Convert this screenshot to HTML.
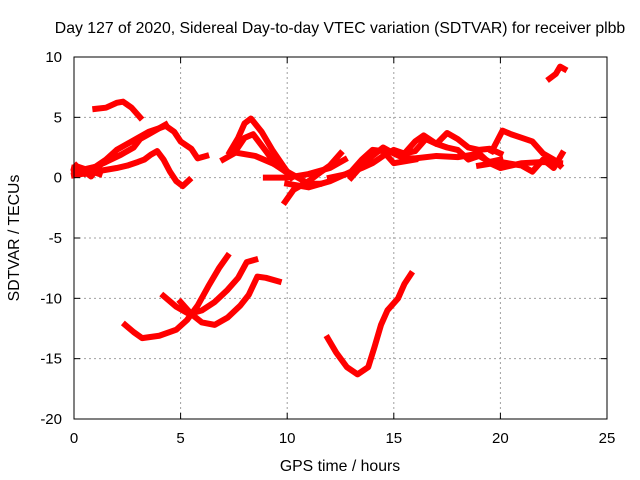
<!DOCTYPE html>
<html><head><meta charset="utf-8"><style>
body{margin:0;background:#fff}
svg{display:block;font-family:"Liberation Sans",sans-serif}
</style></head><body>
<svg id="c" width="640" height="480">
<text x="340" y="33" text-anchor="middle" font-size="15.8">Day 127 of 2020, Sidereal Day-to-day VTEC variation (SDTVAR) for receiver plbb</text>
<text x="340" y="471" text-anchor="middle" font-size="15.8">GPS time / hours</text>
<text transform="translate(19,238) rotate(-90)" text-anchor="middle" font-size="15.8">SDTVAR / TECUs</text>
<g id="grid"></g><g id="marks"></g><g id="axes"></g>
</svg>
<script>
const xTicks=[0,5,10,15,20,25];
const yTicks=[-20,-15,-10,-5,0,5,10];
const tracks=[
[[1.0,5.7],[1.5,5.8],[2.0,6.2],[2.3,6.3],[2.7,5.8],[3.1,5.0]],
[[0,0.8],[0.5,0.6],[1,0.9],[1.5,1.5],[2,2.3],[2.5,2.8],[3,3.3],[3.5,3.8],[4,4.1],[4.3,4.3],[4.7,3.8],[5,3.0],[5.5,2.4],[5.8,1.6],[6.2,1.8]],
[[0,0.2],[1,0.5],[2,0.8],[2.5,1.0],[3,1.3],[3.3,1.5],[3.6,1.9],[3.9,2.2],[4.2,1.5],[4.5,0.5],[4.8,-0.3],[5.1,-0.7],[5.4,-0.2]],
[[0,0.5],[1,0.9],[1.5,1.3],[2.2,1.9],[2.8,2.5],[3.1,3.2],[3.5,3.6],[4.3,4.4]],
[[0.1,1.0],[0.5,0.3],[1,0.7],[1.3,1.2],[0.8,0.1],[0.2,0.9],[1.2,0.3]],
[[7.0,1.5],[7.5,2.0],[8.0,3.3],[8.4,3.6],[9,2.2],[9.5,1.0],[10,0.4]],
[[7.3,2.1],[7.7,3.3],[8.0,4.5],[8.3,4.9],[8.8,3.8],[9.3,2.3],[9.8,1.0],[10.2,0]],
[[7.5,2.1],[8.5,1.8],[9.3,1.2],[10,0.5],[10.5,0],[11,-0.5],[11.5,-0.5]],
[[9,0],[10,0],[11,0.3],[12,0.8],[12.7,1.5]],
[[9.9,-2],[10.3,-1],[11,-0.3],[11.6,0.5],[12,1.0],[12.5,2.0]],
[[10,-0.5],[11,-0.8],[12,-0.3],[13,0.5],[13.5,1.5],[14,2.3],[14.5,2.2],[15,1.2],[16,1.5]],
[[12,0],[12.8,0.3],[13.5,0.8],[14,1.2],[14.5,1.8],[15,2.3],[15.5,2.0],[16,2.2],[16.5,3.2],[17,2.8],[17.5,2.5],[18,2.3],[18.5,1.5],[19,1.8],[19.5,1.3],[20,1.5]],
[[13,0],[13.5,1.0],[14,1.8],[14.5,2.5],[15,2.0],[15.5,1.6],[16,1.6],[17,1.8],[18,1.7],[19,2.0],[19.5,1.2],[20,0.8],[21,1.2],[22,1.3],[22.8,1.2]],
[[15.5,2.0],[16,3.0],[16.4,3.5],[17,2.8],[17.5,3.7],[18,3.2],[18.5,2.5],[19,2.3],[19.5,2.4],[20,2.0]],
[[19.6,2.2],[20.1,3.9],[20.5,3.6],[21,3.3],[21.5,3.0],[22,2.0],[22.5,1.5],[22.8,1.0]],
[[19,1.0],[20,1.3],[21,1.0],[21.5,0.5],[22,1.5],[22.5,0.8],[22.9,2.0]],
[[22.3,8.2],[22.6,8.6],[22.8,9.2],[23,9.0]],
[[2.4,-12.2],[2.8,-12.8],[3.2,-13.3],[4,-13.1],[4.8,-12.6],[5.3,-11.8],[5.8,-10.6],[6.3,-9.0],[6.8,-7.5],[7.2,-6.5]],
[[4.2,-9.8],[4.8,-10.7],[5.4,-11.3],[6,-11.0],[6.6,-10.3],[7.2,-9.3],[7.7,-8.3],[8.1,-7.0],[8.5,-6.8]],
[[5,-10.3],[5.5,-11.3],[6,-12.0],[6.6,-12.2],[7.2,-11.6],[7.8,-10.6],[8.2,-9.7],[8.6,-8.2],[9,-8.3],[9.6,-8.6]],
[[11.9,-13.3],[12.3,-14.5],[12.8,-15.7],[13.3,-16.3],[13.8,-15.7],[14.1,-14],[14.4,-12.2],[14.7,-11.0],[15.2,-10.0],[15.5,-8.8],[15.8,-8.0]]
];
const L=74,R=607,T=57,B=419;
const sx=h=>L+(h-0)/25*(R-L);
const sy=v=>B-(v+20)/30*(B-T);
const NS="http://www.w3.org/2000/svg";
function mk(tag,a,p){const e=document.createElementNS(NS,tag);for(const k in a)e.setAttribute(k,a[k]);p.appendChild(e);return e;}
const grid=document.getElementById('grid'),axes=document.getElementById('axes'),marks=document.getElementById('marks');
xTicks.forEach(t=>{
 const x=sx(t);
 if(t>0&&t<25){const g=mk('line',{x1:x,x2:x,y1:T,y2:B,stroke:'#a0a0a0','stroke-dasharray':'2,3'},grid);
 
 }
 mk('line',{x1:x,x2:x,y1:B,y2:B-6,stroke:'#000'},axes);
 mk('line',{x1:x,x2:x,y1:T,y2:T+6,stroke:'#000'},axes);
 const l=mk('text',{x:x,y:B+24,'text-anchor':'middle','font-size':15},axes);l.textContent=t;
 
 
});
yTicks.forEach(t=>{
 const y=sy(t);
 if(t>-20&&t<10){const g=mk('line',{x1:L,x2:R,y1:y,y2:y,stroke:'#a0a0a0','stroke-dasharray':'2,3'},grid);
 
 }
 mk('line',{x1:L,x2:L+6,y1:y,y2:y,stroke:'#000'},axes);
 mk('line',{x1:R,x2:R-6,y1:y,y2:y,stroke:'#000'},axes);
 const l=mk('text',{x:L-12,y:y+5,'text-anchor':'end','font-size':15},axes);l.textContent=t;
 
 
});
const box=mk('rect',{x:L,y:T,width:R-L,height:B-T,fill:'none',stroke:'#000'},axes);


tracks.forEach(tr=>{
 const p=mk('polyline',{points:tr.map(d=>sx(d[0])+','+sy(d[1])).join(' '),fill:'none',stroke:'#f00','stroke-width':6,'stroke-linejoin':'round','stroke-linecap':'square'},marks);
 
 
});
</script>
</body></html>
